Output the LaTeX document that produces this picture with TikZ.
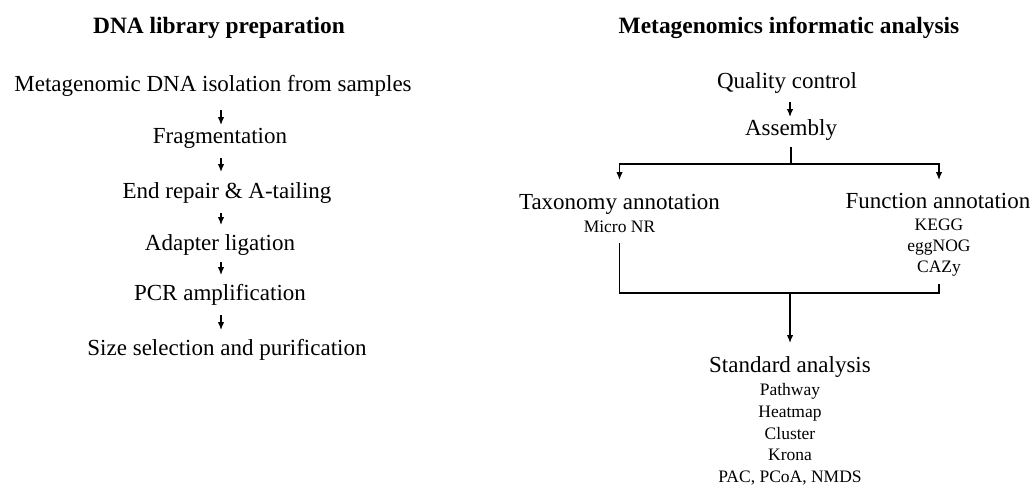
\documentclass[tikz,border=0pt]{standalone}
\usepackage{fontspec}
\setmainfont{Liberation Serif}
\usetikzlibrary{arrows.meta}
\begin{document}
\begin{tikzpicture}[x=1pt,y=-1pt,
  title/.style={anchor=base,inner sep=0pt,font=\fontsize{23.4}{28}\selectfont\bfseries},
  mainbox/.style={anchor=base,inner sep=0pt,font=\fontsize{23}{27}\selectfont},
  subbox/.style={anchor=base,inner sep=0pt,font=\fontsize{17.5}{21}\selectfont},
  arr/.style={line width=1.3pt,-{Latex[length=8pt,width=6.5pt]}},
  ln/.style={line width=1.3pt}]
\useasboundingbox (0,0) rectangle (1035,485);
% left column
\node[title] (tl) at (219,33) {DNA library preparation};
\node[mainbox] (m1) at (213,91) {Metagenomic DNA isolation from samples};
\node[mainbox] (m2) at (220,143) {Fragmentation};
\node[mainbox] (m3) at (227,198) {End repair \& A-tailing};
\node[mainbox] (m4) at (220,250) {Adapter ligation};
\node[mainbox] (m5) at (220,300) {PCR amplification};
\node[mainbox] (m6) at (227,355) {Size selection and purification};
\draw[arr] ([xshift=8pt,yshift=-19pt]m1.base) -- ([xshift=1pt,yshift=18pt]m2.base);
\draw[arr] ([xshift=1pt,yshift=-15pt]m2.base) -- ([xshift=-6pt,yshift=26pt]m3.base);
\draw[arr] ([xshift=-6pt,yshift=-15pt]m3.base) -- ([xshift=1pt,yshift=25pt]m4.base);
\draw[arr] ([xshift=1pt,yshift=-12pt]m4.base) -- ([xshift=1pt,yshift=25pt]m5.base);
\draw[arr] ([xshift=1pt,yshift=-15pt]m5.base) -- ([xshift=-6pt,yshift=25pt]m6.base);
% right column
\node[title] (tr) at (789,33) {Metagenomics informatic analysis};
\node[mainbox] (qc) at (787,88) {Quality control};
\node[mainbox] (asm) at (791,135) {Assembly};
\node[mainbox] (tax) at (619.5,209) {Taxonomy annotation};
\node[subbox] (mnr) at (619.5,232) {Micro NR};
\node[mainbox] (fun) at (938,208) {Function annotation};
\node[subbox] (kegg) at (939,230) {KEGG};
\node[subbox] (egg) at (939,251) {eggNOG};
\node[subbox] (cazy) at (939,272) {CAZy};
\node[mainbox] (std) at (790,372) {Standard analysis};
\node[subbox] (s1) at (790,395) {Pathway};
\node[subbox] (s2) at (790,417) {Heatmap};
\node[subbox] (s3) at (790,439) {Cluster};
\node[subbox] (s4) at (790,460) {Krona};
\node[subbox] (s5) at (790,482) {PAC, PCoA, NMDS};
\draw[arr] ([xshift=3pt,yshift=-14pt]qc.base) -- ([xshift=-1pt,yshift=18pt]asm.base);
\draw[arr] ([yshift=-12pt]asm.base) -- ++(0,-17pt) -| ([yshift=29pt]tax.base);
\draw[arr] ([yshift=-12pt]asm.base) -- ++(0,-17pt) -| ([xshift=1pt,yshift=28pt]fun.base);
\coordinate (j) at (790,293);
\draw[ln] ([yshift=-11pt]mnr.base) |- ([yshift=-21pt]cazy.base) -- ([yshift=-12pt]cazy.base);
\draw[arr] (j) -- ([yshift=29pt]std.base);
\end{tikzpicture}
\end{document}
